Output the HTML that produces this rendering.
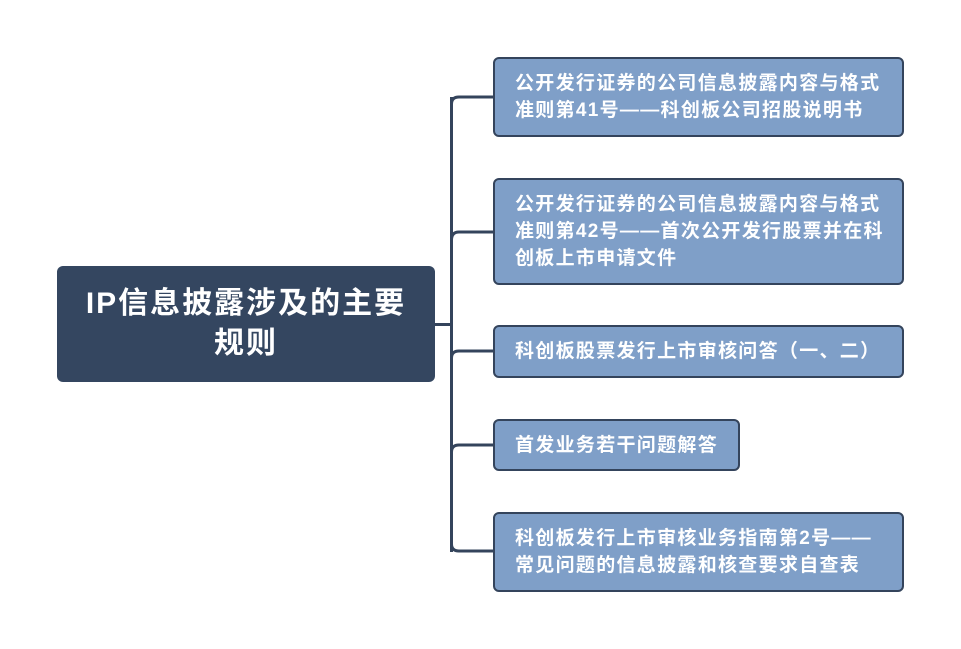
<!DOCTYPE html>
<html><head><meta charset="utf-8"><style>
body{margin:0;width:961px;height:649px;background:#fff;position:relative;overflow:hidden;font-family:"Liberation Sans","Noto Sans CJK SC",sans-serif;}
.b{position:absolute;left:493px;width:411px;box-sizing:border-box;background:#7f9fc8;border:2px solid #34445c;border-radius:6px;color:#fff;font-weight:bold;font-size:19px;letter-spacing:1.3px;line-height:27px;padding-left:20px;display:flex;align-items:center;white-space:nowrap;}
.l{position:absolute;background:#34445c;}
</style></head><body>
<div class="l" style="left:435px;top:323px;width:17px;height:3px"></div>
<div class="l" style="left:450px;top:97px;width:3px;height:455px;"></div>
<svg style="position:absolute;left:0;top:0" width="961" height="649">
<g fill="none" stroke="#34445c" stroke-width="3">
<path d="M451.5 110 V104 Q451.5 97 459 97 H493"/>
<path d="M451.5 240 Q451.5 232 459 232 H493"/>
<path d="M451.5 358 Q451.5 351 459 351 H493"/>
<path d="M451.5 452 Q451.5 445 459 445 H493"/>
<path d="M451.5 540 V544 Q451.5 551 459 551 H493"/>
</g></svg>
<div style="position:absolute;left:57px;top:266px;width:378px;height:116px;background:#344660;border-radius:6px;color:#fff;font-weight:bold;font-size:30px;letter-spacing:2px;line-height:40px;display:flex;align-items:center;justify-content:center;text-align:center;">IP信息披露涉及的主要<br>规则</div>
<div class="b" style="top:57px;height:80px">公开发行证券的公司信息披露内容与格式<br>准则第41号——科创板公司招股说明书</div>
<div class="b" style="top:178px;height:107px">公开发行证券的公司信息披露内容与格式<br>准则第42号——首次公开发行股票并在科<br>创板上市申请文件</div>
<div class="b" style="top:325px;height:53px">科创板股票发行上市审核问答（一、二）</div>
<div class="b" style="top:419px;height:52px;width:247px">首发业务若干问题解答</div>
<div class="b" style="top:512px;height:80px">科创板发行上市审核业务指南第2号——<br>常见问题的信息披露和核查要求自查表</div>
</body></html>
